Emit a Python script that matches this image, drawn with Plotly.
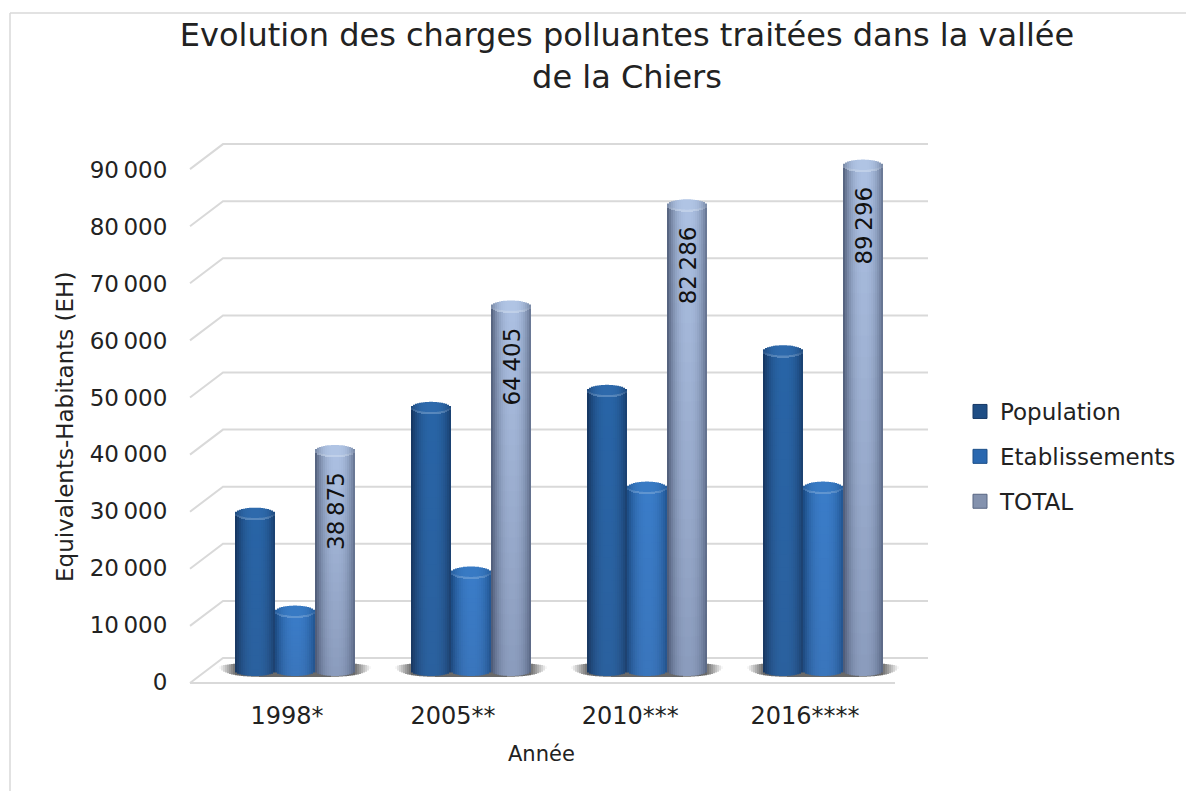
import numpy as np
import plotly.graph_objects as go

# ---- data ----
years = ["1998*", "2005**", "2010***", "2016****"]
population = [27800, 46500, 49500, 56500]
etablissements = [10500, 17405, 32400, 32400]
total = [38875, 64405, 82286, 89296]
total_labels = ["38\u202f875", "64\u202f405", "82\u202f286", "89\u202f296"]
y_ticks = [0, 10000, 20000, 30000, 40000, 50000, 60000, 70000, 80000, 90000]
y_labels = ["0", "10\u202f000", "20\u202f000", "30\u202f000", "40\u202f000", "50\u202f000",
            "60\u202f000", "70\u202f000", "80\u202f000", "90\u202f000"]

FONT = "DejaVu Sans"
W, H = 1186, 783
OX, OY = 8, 8
L, R, T, B = 175, 960, 130, 690          # plot area in page pixels
XPX0, XPX = 287, 176                     # category 0 pixel, pixels per category
Y0, YS = 682, 56.9 / 10000               # tick-label scale
BY0, BYS = 671, 56.6 / 10000             # bar scale
GRID = "#d9d9d9"
TICK_SHIFT = [0.0, -0.057, -0.05, -0.057]  # horizontal nudge of the category labels

def xv(px):
    return (px - XPX0) / XPX
def yv(px):
    return (Y0 - px) / YS
def byv(px):
    return (BY0 - px) / BYS
def paperx(px):
    return (px - L) / (R - L)
def papery(py):
    return (B - py) / (B - T)

fig = go.Figure()

# ---- floor & walls, drawn on the label axis ----
gx, gy = [], []
for v in y_ticks:
    wall = 658 - v * 57.1 / 10000
    gx += [xv(190), xv(223), xv(928), None]
    gy += [yv(wall + 25), yv(wall), yv(wall), None]
gx += [xv(190), xv(895), None]
gy += [yv(683), yv(683), None]
fig.add_trace(go.Scatter(x=gx, y=gy, mode="lines", line=dict(color=GRID, width=2),
                         showlegend=False, hoverinfo="skip", connectgaps=False))

GROUP_DX = 8 / XPX
SER_DX = 40 / XPX
SLICE = 2 / XPX                 # 2-pixel slices, edges on whole pixels
N = 20
K = 24
ts = (np.arange(N) + 0.5) / N * 2 - 1
CAP_H = 6 / BYS
BOT_H = 5 / BYS
RIM = 1.6 / BYS


def mix(a, b, f):
    return "#%02x%02x%02x" % tuple(int(round(a[j] + (b[j] - a[j]) * f)) for j in range(3))


def rgb(h):
    return tuple(int(h[j:j + 2], 16) for j in (1, 3, 5))


# ---- floor shadows (opaque, fading into the white floor) ----
sh_x, sh_base, sh_y, sh_col = [], [], [], []
SN = 76
for i in range(len(years)):
    for k in range(SN):
        t = (k + 0.5) / SN * 2 - 1
        env = (1 - abs(t) ** 5) ** 0.6
        sh_x.append(i + GROUP_DX + t * SN / 2 * SLICE)
        sh_base.append((4 - 10 * env) / BYS)
        sh_y.append((14 * env) / BYS)
        f = min(1, (1 - abs(t)) * 4.5)
        sh_col.append(mix((255, 255, 255), (105, 105, 105), f))
fig.add_trace(go.Bar(x=sh_x, y=sh_y, base=sh_base, width=[SLICE] * len(sh_x),
                     marker=dict(color=sh_col, line=dict(width=0)), yaxis="y2",
                     showlegend=False, hoverinfo="skip"))


def shade(edge, mid, t, dark, dark_to):
    c = rgb(mix(mid, edge, min(1, abs(t - 0.05) ** 2.4)))
    return mix(c, dark_to, dark)


series = [
    ("Population", population, -SER_DX, (22, 56, 100), (40, 100, 166), (46, 106, 172), "#1f4e85", 0.12),
    ("Etablissements", etablissements, 0, (28, 78, 136), (58, 124, 200), (56, 122, 196), "#2a68b0", 0.12),
    ("TOTAL", total, SER_DX, (88, 102, 130), (172, 192, 226), (176, 196, 228), "#8492ae", 0.30),
]
for name, vals, dx, edge, mid, capc, legc, dk in series:
    xs, ys, bases, cols = [], [], [], []
    cx, cy, cb, cc = [], [], [], []
    rx, ry, rb, rc = [], [], [], []
    rim_c = rgb(mix(capc, (255, 255, 255), 0.2))
    for i, v in enumerate(vals):
        for j, t in enumerate(ts):
            s = np.sqrt(1 - t * t)
            x = i + GROUP_DX + dx + (j - N / 2 + 0.5) * SLICE
            edges = np.linspace(-BOT_H * s, v, K + 1)
            for k in range(K):
                xs.append(x)
                bases.append(edges[k])
                over = 1.5 / BYS if k < K - 1 else 0
                ys.append(edges[k + 1] - edges[k] + over)
                cols.append(shade(edge, mid, t, dk * (1 - (k + 0.5) / K), (60, 70, 100)))
            cx.append(x)
            cb.append(v - CAP_H * s)
            cy.append(2 * CAP_H * s)
            cc.append(mix(capc, edge, min(1, abs(t) ** 3 * 0.7)))
            rx.append(x)
            rb.append(v - CAP_H * s)
            ry.append(RIM)
            rc.append(mix(rim_c, edge, min(1, abs(t) ** 3 * 0.7)))
    fig.add_trace(go.Bar(x=xs, y=ys, base=bases, width=[SLICE] * len(xs), name=name, yaxis="y2",
                         marker=dict(color=cols, line=dict(width=0)),
                         showlegend=False, hoverinfo="skip"))
    fig.add_trace(go.Bar(x=cx, y=cy, base=cb, width=[SLICE] * len(cx), name=name, yaxis="y2",
                         marker=dict(color=cc, line=dict(width=0)),
                         showlegend=False, hoverinfo="skip"))
    fig.add_trace(go.Bar(x=rx, y=ry, base=rb, width=[SLICE] * len(rx), name=name, yaxis="y2",
                         marker=dict(color=rc, line=dict(width=0)),
                         showlegend=False, hoverinfo="skip"))
    fig.add_trace(go.Scatter(x=[None], y=[None], mode="markers", name=name, legendgroup=name,
                             marker=dict(symbol="square", size=14, color=legc,
                                         line=dict(color=mix(edge, edge, 0), width=1))))

annotations = []
for i, (v, lab) in enumerate(zip(total, total_labels)):
    annotations.append(dict(x=i + GROUP_DX + SER_DX + 1 / XPX, y=v - 60 / BYS, xref="x", yref="y2",
                            text=lab, textangle=-90, showarrow=False,
                            xanchor="center", yanchor="middle",
                            font=dict(family=FONT, size=23, color="#111111")))
annotations.append(dict(x=paperx(541), y=papery(754), xref="paper", yref="paper",
                        xanchor="center", yanchor="middle",
                        text="Année", showarrow=False,
                        font=dict(family=FONT, size=21, color="#222222")))
annotations.append(dict(x=paperx(65), y=papery(427), xref="paper", yref="paper",
                        xanchor="center", yanchor="middle",
                        text="Equivalents-Habitants (EH)", textangle=-90, showarrow=False,
                        font=dict(family=FONT, size=23, color="#222222")))

fig.update_layout(
    width=W, height=H, autosize=False,
    margin=dict(l=L - OX, r=W - (R - OX), t=T - OY, b=H - (B - OY), autoexpand=False),
    paper_bgcolor="white", plot_bgcolor="rgba(0,0,0,0)",
    barmode="overlay",
    font=dict(family=FONT, color="#222222"),
    title=dict(text="Evolution des charges polluantes traitées dans la vallée<br>de la Chiers",
               x=(627 - OX) / W, xanchor="center", xref="container",
               y=1 - (46 - OY) / H, yanchor="middle", yref="container",
               font=dict(family=FONT, size=32, color="#222222")),
    xaxis=dict(range=[xv(L), xv(R)], tickvals=[i + s for i, s in enumerate(TICK_SHIFT)], ticktext=years,
               showgrid=False, zeroline=False, showline=False, ticks="outside", ticklen=4,
               tickcolor="rgba(0,0,0,0)", tickfont=dict(family=FONT, size=24, color="#222222")),
    yaxis=dict(range=[yv(B), yv(T)], tickvals=y_ticks, ticktext=y_labels, showgrid=False,
               zeroline=False, showline=False, tickfont=dict(family=FONT, size=23, color="#222222"),
               ticks="outside", ticklen=2, tickcolor="rgba(0,0,0,0)"),
    yaxis2=dict(range=[byv(B), byv(T)], overlaying="y", side="right", visible=False,
                showgrid=False, zeroline=False),
    legend=dict(x=paperx(960), y=papery(390), xanchor="left", yanchor="top",
                tracegroupgap=12, bgcolor="rgba(0,0,0,0)",
                font=dict(family=FONT, size=23, color="#222222")),
    annotations=annotations,
    shapes=[dict(type="line", xref="paper", yref="paper", x0=paperx(10), x1=paperx(1194),
                 y0=papery(13), y1=papery(13), line=dict(color=GRID, width=1.5), layer="below"),
            dict(type="line", xref="paper", yref="paper", x0=paperx(10), x1=paperx(10),
                 y0=papery(13), y1=papery(791), line=dict(color=GRID, width=1.5), layer="below")],
)

fig.write_html("out.html")
